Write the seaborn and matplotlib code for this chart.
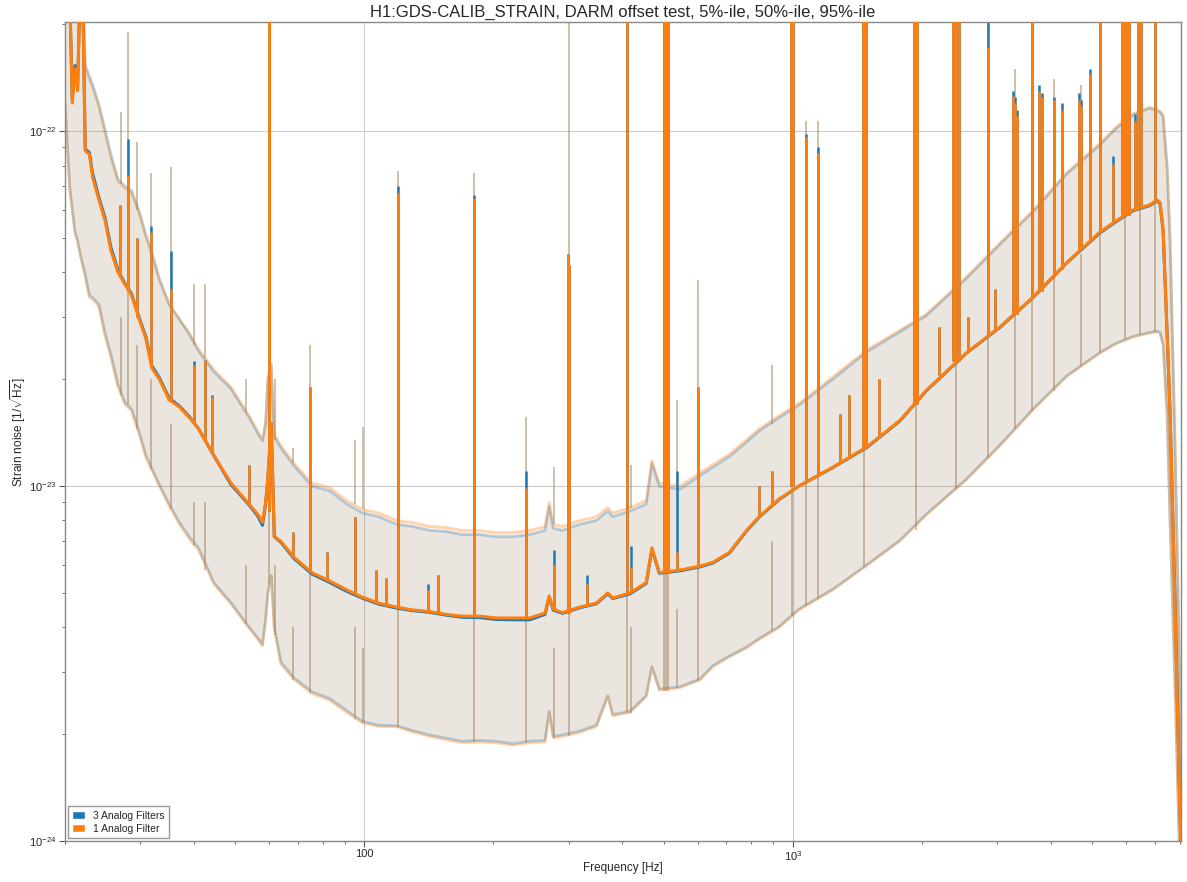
import numpy as np
import pandas as pd
import matplotlib
matplotlib.use("Agg")
import matplotlib.pyplot as plt
from matplotlib.patches import Patch
import seaborn as sns

# strain values below are in units of 1e-24 / sqrt(Hz), frequencies in Hz
UNIT = 1e-24

freq = [20.0, 20.5, 20.8, 21.1, 21.4, 21.7, 22.0, 22.3, 22.8, 23.2,
        24.0, 24.8, 25.6, 26.6, 27.6, 28.6, 29.8, 30.9, 31.9, 33.2,
        35.0, 37.0, 39.0, 41.0, 44.5, 48.8, 53.8, 56.5, 57.8, 58.8,
        59.5, 60.6, 61.6, 63.8, 68.5, 75.5, 83.0, 91.0, 99.0, 108.0,
        119.0, 129.0, 142.0, 155.0, 169.0, 186.0, 203.0, 222.0, 243.0, 264.0,
        270.0, 276.0, 290.0, 318.0, 348.0, 370.0, 380.0, 417.0, 455.0, 469.0,
        488.0, 545.0, 607.0, 651.0, 711.0, 780.0, 835.0, 930.0, 1034.0, 1240.0,
        1490.0, 1778.0, 2050.0, 2540.0, 3046.0, 3640.0, 4350.0, 5215.0, 5700.0, 6230.0,
        6820.0, 7080.0, 7200.0, 7320.0, 7480.0, 7600.0, 7820.0, 8000.0, 8070.0]

# 1 Analog Filter (orange)
med_1 = [300, 250, 120, 150, 130, 260, 240, 88, 86, 74,
         64, 56, 46, 40, 37, 34.5, 29.5, 26, 21.5, 20,
         17.5, 16.7, 15.6, 14.5, 12.2, 10.2, 8.9, 8.3, 7.9, 9.0,
         10.5, 15, 7.2, 7.0, 6.3, 5.7, 5.4, 5.1, 4.86, 4.68,
         4.56, 4.48, 4.43, 4.35, 4.3, 4.3, 4.25, 4.25, 4.25, 4.39,
         4.9, 4.5, 4.4, 4.56, 4.68, 5.0, 4.84, 5.0, 5.35, 6.7,
         5.7, 5.8, 5.95, 6.1, 6.5, 7.5, 8.2, 9.2, 10.0, 11.3,
         12.9, 15.3, 18.6, 23.7, 28.1, 34.1, 42.5, 52, 56, 60,
         62, 64, 63, 53, 27, 16, 4.2, 1.3, 0.9]
p95_1 = [320, 300, 300, 290, 290, 280, 260, 151, 140, 133,
         117, 99, 84, 72, 69, 67, 58.7, 50.3, 45, 38,
         32.5, 29.5, 27, 24.3, 21.3, 19, 15.8, 14.2, 13.5, 15,
         20, 22, 14, 13, 11.6, 10.2, 9.9, 9.1, 8.6, 8.4,
         8.0, 7.9, 7.7, 7.65, 7.5, 7.5, 7.4, 7.4, 7.5, 7.7,
         9.0, 7.8, 7.7, 8.0, 8.2, 8.7, 8.4, 8.7, 9.1, 11.8,
         10.2, 10.0, 10.9, 11.5, 12.3, 13.5, 14.5, 15.8, 17.1, 20.3,
         24.2, 27.5, 30.5, 38.8, 48.4, 59.8, 76.2, 92.5, 103, 112,
         117, 115, 114, 111, 80, 50, 12, 3, 1.5]
p5_1 = [120, 70, 60, 52, 49, 45, 42, 38.8, 34, 33.5,
        32, 26.5, 23, 19, 17, 16.3, 14, 12, 11.1, 10,
        8.8, 7.8, 7.1, 6.6, 5.3, 4.65, 3.98, 3.7, 3.55, 4.2,
        5.0, 5.6, 4.0, 3.15, 2.85, 2.6, 2.49, 2.3, 2.15, 2.1,
        2.1, 2.03, 1.97, 1.93, 1.89, 1.9, 1.89, 1.86, 1.89, 1.9,
        2.3, 1.95, 1.97, 2.02, 2.1, 2.55, 2.25, 2.3, 2.55, 3.09,
        2.66, 2.7, 2.84, 3.1, 3.3, 3.5, 3.7, 4.0, 4.48, 5.1,
        5.98, 7.0, 8.3, 10.4, 13, 16.4, 20.3, 23.7, 25.2, 26.3,
        27, 27.2, 27, 25, 16, 8, 2.5, 0.9, 0.7]

# 3 Analog Filters (blue)
med_3 = [300, 250, 123, 153, 133, 260, 240, 89, 87, 76,
         65, 57, 47, 40.5, 37.2, 34.8, 29.8, 26.3, 21.8, 20.2,
         17.7, 16.8, 15.7, 14.5, 12.2, 10.1, 8.85, 8.2, 7.75, 8.9,
         10.4, 15, 7.2, 6.95, 6.25, 5.65, 5.35, 5.05, 4.83, 4.65,
         4.53, 4.46, 4.41, 4.33, 4.27, 4.26, 4.21, 4.2, 4.2, 4.35,
         4.87, 4.47, 4.38, 4.54, 4.66, 4.97, 4.82, 4.97, 5.32, 6.65,
         5.68, 5.77, 5.92, 6.07, 6.47, 7.47, 8.17, 9.17, 10.0, 11.27,
         12.85, 15.25, 18.55, 23.65, 28, 34, 42.4, 51.7, 55.7, 59.7,
         61.7, 63.7, 62.5, 52.5, 27, 16, 4.4, 1.35, 0.9]
p95_3 = [320, 300, 300, 290, 290, 280, 260, 154, 143, 135,
         119, 101, 86, 73, 70, 68, 59.5, 51, 45.5, 38.5,
         32.5, 29.5, 26.8, 24, 21, 18.8, 15.6, 14, 13.4, 15,
         20, 22, 13.8, 12.8, 11.4, 10.0, 9.7, 8.9, 8.4, 8.2,
         7.8, 7.7, 7.5, 7.45, 7.3, 7.3, 7.2, 7.2, 7.3, 7.5,
         8.8, 7.6, 7.5, 7.8, 8.0, 8.5, 8.2, 8.5, 8.9, 11.6,
         10.0, 9.8, 10.7, 11.3, 12.1, 13.3, 14.3, 15.6, 16.9, 20.0,
         23.9, 27.2, 30.2, 38.4, 48, 59.3, 75.5, 91.5, 102, 111,
         116, 114, 113, 110, 79, 49, 12, 3, 1.5]
p5_3 = [120, 70, 60, 52, 49, 45, 42, 39.5, 34.5, 34,
        32.5, 27, 23.5, 19.3, 17.2, 16.5, 14.2, 12.2, 11.2, 10.1,
        8.9, 7.9, 7.2, 6.7, 5.35, 4.7, 4.0, 3.72, 3.57, 4.2,
        5.0, 5.6, 4.0, 3.2, 2.88, 2.63, 2.52, 2.33, 2.17, 2.12,
        2.11, 2.05, 1.99, 1.95, 1.91, 1.92, 1.91, 1.88, 1.91, 1.92,
        2.32, 1.97, 1.99, 2.04, 2.12, 2.57, 2.27, 2.32, 2.57, 3.1,
        2.68, 2.72, 2.86, 3.12, 3.32, 3.52, 3.72, 4.02, 4.5, 5.12,
        6.0, 7.03, 8.33, 10.45, 13.05, 16.5, 20.4, 23.8, 25.3, 26.4,
        27.1, 27.3, 27.1, 25.1, 16, 8, 2.5, 0.9, 0.7]

# narrow lines in the median spectra
line_freq = [26.9, 28.0, 29.5, 31.7, 35.4, 40.1, 42.5, 44.1, 53.8, 59.9,
             60.0, 68.3, 74.5, 82.0, 95.3, 106.7, 112.6, 120.0, 141.0, 148.7,
             180.0, 239.0, 277.0, 299.0, 301.0, 331.0, 410.0, 419.0, 500.0, 503.0,
             506.0, 509.0, 512.0, 537.0, 600.0, 832.0, 895.0, 990.0, 995.0, 1000.0,
             1075.0, 1144.0, 1290.0, 1350.0, 1455.0, 1465.0, 1475.0, 1485.0, 1590.0, 1915.0,
             1925.0, 1935.0, 1950.0, 2200.0, 2370.0, 2390.0, 2410.0, 2440.0, 2560.0, 2850.0,
             2960.0, 3270.0, 3300.0, 3340.0, 3620.0, 3760.0, 3820.0, 4070.0, 4240.0, 4650.0,
             4720.0, 4950.0, 5215.0, 5600.0, 5860.0, 5920.0, 5980.0, 6040.0, 6100.0, 6300.0,
             6400.0, 6500.0, 7000.0]
line_base = [39, 36, 30, 22, 17.5, 15, 13.5, 12.5, 8.9, 8.5,
             8.5, 6.3, 5.8, 5.4, 5.0, 4.7, 4.6, 4.56, 4.43, 4.4,
             4.3, 4.25, 4.5, 4.4, 4.4, 4.6, 5.0, 5.0, 5.8, 5.8,
             5.8, 5.8, 5.8, 5.8, 5.95, 8.2, 8.8, 10, 10, 10,
             10.3, 10.7, 11.6, 12.1, 12.9, 12.9, 12.9, 12.9, 13.8, 17,
             17, 17, 17, 20.5, 22.5, 22.5, 22.5, 22.5, 24, 26.5,
             27.5, 30.5, 30.5, 30.5, 34, 35.5, 35.5, 39, 41, 46.5,
             46.5, 49, 52, 55, 58, 58, 58, 58, 58, 60,
             61, 61, 63]
line_top_1 = [62, 75, 50, 52, 36, 22, 22.7, 17.8, 11.5, 400,
              400, 7.4, 19, 6.5, 8.2, 5.8, 5.5, 67, 5.1, 5.6,
              65, 9.9, 6.0, 45, 42, 5.3, 400, 5.9, 400, 400,
              400, 400, 400, 6.5, 19, 10, 11, 400, 400, 400,
              96, 87, 16, 18, 400, 400, 400, 400, 20, 400,
              400, 400, 400, 28, 400, 400, 400, 400, 30, 173,
              36, 126, 120, 110, 400, 130, 125, 122, 115, 122,
              118, 145, 400, 81, 400, 400, 400, 400, 400, 107,
              400, 400, 400]
line_top_3 = [62, 95, 50, 54, 46, 22.5, 22.7, 18, 11.5, 400,
              400, 7.4, 19, 6.5, 8.2, 5.8, 5.5, 70, 5.3, 5.6,
              66, 11, 6.6, 45, 42, 5.6, 400, 6.8, 400, 400,
              400, 400, 400, 11, 19, 10, 11, 400, 400, 400,
              98, 90, 16, 18, 400, 400, 400, 400, 20, 400,
              400, 400, 400, 28, 400, 400, 400, 400, 30, 400,
              36, 130, 125, 115, 400, 135, 128, 125, 120, 128,
              122, 150, 400, 85, 400, 400, 400, 400, 400, 112,
              400, 400, 400]

# lines in the 5% / 95% percentile curves
band_freq = [27.0, 28.0, 29.5, 31.7, 35.4, 40.1, 42.5, 53.0, 60.0, 62.0,
             68.3, 74.5, 95.3, 99.5, 120.0, 180.0, 239.0, 277.0, 300.0, 410.0,
             419.0, 500.0, 506.0, 512.0, 537.0, 600.0, 895.0, 995.0, 1075.0, 1144.0,
             1470.0, 1935.0, 2400.0, 2850.0, 3300.0, 3620.0, 4070.0, 4700.0, 5215.0, 5980.0,
             6450.0, 7000.0]
hi_base = [71, 68, 60, 46, 32, 25, 23, 16.2, 18, 13.5,
           11.6, 10.3, 8.9, 8.6, 8.0, 7.5, 7.5, 7.8, 7.8, 8.7,
           8.7, 10, 10, 10, 10, 10.8, 15, 16.7, 17.6, 18.8,
           24, 29.5, 36.5, 44, 53, 59.5, 69, 83, 92.5, 108,
           114, 116]
hi_top = [113, 190, 93, 76, 79, 37, 37, 20, 400, 20,
          12.8, 25, 13.5, 14.7, 77, 76, 15.7, 11.3, 400, 400,
          11.5, 400, 400, 400, 17.5, 38, 22, 400, 107, 107,
          400, 400, 400, 400, 150, 400, 140, 135, 400, 400,
          400, 400]
lo_base = [18, 17, 14.5, 11.2, 8.6, 6.8, 5.8, 4.1, 5.3, 3.8,
           2.85, 2.62, 2.2, 2.15, 2.1, 1.9, 1.89, 1.95, 1.98, 2.3,
           2.3, 2.65, 2.65, 2.65, 2.7, 2.83, 3.9, 4.3, 4.6, 4.8,
           5.9, 7.5, 9.8, 12, 14.5, 16.3, 18.5, 21.8, 23.7, 26,
           26.6, 27.1]
lo_top = [30, 40, 25, 20, 15, 9, 9, 6, 60, 6,
          4, 6.5, 4, 3.5, 30, 30, 5, 3.5, 40, 60,
          4, 100, 100, 100, 4.5, 9, 7, 100, 20, 20,
          100, 100, 100, 60, 35, 100, 45, 45, 100, 100,
          100, 100]

BLUE = "#1f77b4"
ORANGE = "#ff7f0e"

sns.set_theme(style="ticks")
plt.rcParams["font.family"] = ["Liberation Sans", "DejaVu Sans"]
plt.rcParams["mathtext.fontset"] = "custom"
plt.rcParams["mathtext.rm"] = "Liberation Sans"
plt.rcParams["mathtext.it"] = "Liberation Sans:italic"

df = pd.DataFrame({"freq": freq,
                   "med_3": med_3, "p5_3": p5_3, "p95_3": p95_3,
                   "med_1": med_1, "p5_1": p5_1, "p95_1": p95_1})
for col in df.columns[1:]:
    df[col] = df[col] * UNIT

fig = plt.figure(figsize=(11.87, 8.82), dpi=100)
ax = fig.add_axes([65 / 1187, 41 / 882, 1116 / 1187, 819 / 882])
ax.set_xscale("log")
ax.set_yscale("log")

bf = np.array(band_freq)
lf = np.array(line_freq)

for tag, col, top, z in [("3", BLUE, line_top_3, 2), ("1", ORANGE, line_top_1, 3)]:
    # percentile band
    ax.fill_between(df["freq"], df["p5_" + tag], df["p95_" + tag],
                    color=col, alpha=0.1, lw=0, zorder=1)
    for p in ["p5_", "p95_"]:
        sns.lineplot(data=df, x="freq", y=p + tag, ax=ax, color=col, alpha=0.3,
                     lw=2.0, estimator=None, sort=False, legend=False, zorder=1.5)
    ax.vlines(bf, np.array(hi_base) * UNIT, np.array(hi_top) * UNIT,
              color=col, alpha=0.3, lw=1.3, zorder=1.5)
    ax.vlines(bf, np.array(lo_base) * UNIT, np.array(lo_top) * UNIT,
              color=col, alpha=0.3, lw=1.3, zorder=1.5)
    # median
    sns.lineplot(data=df, x="freq", y="med_" + tag, ax=ax, color=col, lw=2.2,
                 estimator=None, sort=False, legend=False, zorder=z)
    ax.vlines(lf, np.array(line_base) * UNIT, np.array(top) * UNIT,
              color=col, lw=1.8, zorder=z)

ax.set_xlim(20, 8060)
ax.set_ylim(1e-24, 2.03e-22)

ax.set_xticks([100, 1000], ["100", r"$10^{3}$"])
ax.set_yticks([1e-24, 1e-23, 1e-22], [r"$10^{-24}$", r"$10^{-23}$", r"$10^{-22}$"])
ax.xaxis.set_minor_formatter(matplotlib.ticker.NullFormatter())
ax.yaxis.set_minor_formatter(matplotlib.ticker.NullFormatter())
ax.tick_params(which="major", direction="out", length=4, width=0.8, labelsize=8,
               color="#555555", pad=2)
ax.tick_params(which="minor", direction="out", length=2.5, width=0.6, color="#555555")

ax.grid(True, which="major", color="#cccccc", lw=0.8)
ax.set_axisbelow(True)
for s in ax.spines.values():
    s.set_color("#888888")
    s.set_linewidth(1.0)

ax.set_xlabel("Frequency [Hz]", fontsize=8.5, labelpad=-1)
ax.set_ylabel(r"Strain noise [$1/\sqrt{\mathrm{Hz}}$]", fontsize=8.5, labelpad=1)
ax.set_title("H1:GDS-CALIB_STRAIN, DARM offset test, 5%-ile, 50%-ile, 95%-ile",
             fontsize=12, pad=4)

handles = [Patch(facecolor=BLUE, label="3 Analog Filters"),
           Patch(facecolor=ORANGE, label="1 Analog Filter")]
ax.legend(handles=handles, loc="lower left", fontsize=7.5, fancybox=False,
          edgecolor="#999999", framealpha=1, handlelength=1.2, handleheight=0.8,
          borderaxespad=0.3, borderpad=0.4, labelspacing=0.3)

fig.savefig("out.png", dpi=100)
